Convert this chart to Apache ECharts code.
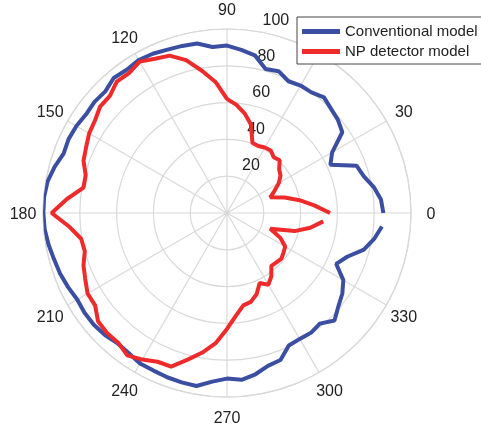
<!DOCTYPE html>
<html>
<head>
<meta charset="utf-8">
<script src="https://cdn.jsdelivr.net/npm/echarts@6/dist/echarts.min.js"></script>
<style>
  html, body { margin: 0; padding: 0; background: #fff; }
  #chart { width: 481px; height: 428px; }
</style>
</head>
<body>
<div id="chart"></div>
<script>
// Beam direction (degrees) for every sample
const angles = [0, 5, 10, 15, 20, 25, 30, 35, 40, 45, 50, 55, 60, 65, 70, 75, 80, 85,
  90, 95, 100, 105, 110, 115, 120, 125, 130, 135, 140, 145, 150, 155, 160, 165, 170, 175,
  180, 185, 190, 195, 200, 205, 210, 215, 220, 225, 230, 235, 240, 245, 250, 255, 260, 265,
  270, 275, 280, 285, 290, 295, 300, 305, 310, 315, 320, 325, 330, 335, 340, 345, 350, 355];

const conventional = [85, 84, 81, 77, 75, 62, 66, 76.5, 78.7, 80, 82, 80, 80, 79, 82, 81, 87, 89,
  91, 90.6, 93.5, 94, 94.5, 95.5, 96, 95, 95.8, 93.5, 94, 93.5, 94.5, 95, 94.5, 97, 99, 99.8,
  99.8, 99.5, 98.5, 97.3, 96.5, 95.3, 94, 94.5, 94.5, 93.8, 92.5, 93, 94.5, 94.5, 95, 95.3, 95.5, 92,
  90, 91, 89, 86, 85, 79.5, 79, 79.5, 78.5, 82.6, 79, 76.5, 73, 65.5, 69.5, 77, 81.2, 84.5];

const npDetector = [56, 47.6, 40, 32.5, 25, 28.5, 32.5, 35.5, 37, 40.5, 39.5, 41.5, 41.1, 40.2, 40.5, 50, 55, 59,
  62, 71.5, 78.5, 86, 91, 92.5, 95, 92.8, 93.2, 90, 90, 87.6, 86.5, 84.5, 83, 79.5, 79.2, 87.3,
  95.3, 86, 80.5, 80, 83, 85, 87.5, 87.5, 91.5, 92.2, 92, 94.5, 92, 89.2, 88.8, 82.5, 77, 71,
  63, 56, 51, 50, 47, 42, 45, 42, 37.5, 38, 38.6, 37.5, 36.5, 32, 25, 38, 46, 52.5];

const seriesNames = ['Conventional model', 'NP detector model'];
const seriesColors = ['#3a4ea2', '#ee2a2a'];

const radiusTicks = { min: 0, max: 100, interval: 20 };
const angleTicks = { min: 0, max: 360, interval: 30 };

const font = "'Liberation Sans', Arial, sans-serif";
const gridColor = '#d9d9d9';
const textColor = '#222';

function pairs(values) {
  return values.map((v, i) => [v, angles[i]]);
}

const chart = echarts.init(document.getElementById('chart'), null, { renderer: 'canvas' });

chart.setOption({
  animation: false,
  backgroundColor: '#fff',
  polar: [
    { center: [227, 213], radius: 184 },
    // second polar shares the frame; it only carries the radial tick labels
    { center: [227, 213], radius: 184 }
  ],
  angleAxis: [
    {
      polarIndex: 0,
      type: 'value',
      min: angleTicks.min,
      max: angleTicks.max,
      interval: angleTicks.interval,
      startAngle: 0,
      clockwise: false,
      axisLine: { show: true, lineStyle: { color: gridColor, width: 1.2 } },
      axisTick: { show: false },
      splitLine: { show: true, lineStyle: { color: gridColor, width: 1.2 } },
      axisLabel: {
        margin: 19,
        // tiny centred box so each label sits centred on its anchor point
        formatter: v => (v >= 360 ? '' : '{a|' + v + '}'),
        rich: {
          a: {
            width: 2, height: 2, lineHeight: 2,
            padding: [4, 0, 0, 0],
            align: 'center', verticalAlign: 'middle',
            fontSize: 16, fontFamily: font, color: textColor
          }
        }
      }
    },
    {
      polarIndex: 1,
      type: 'value',
      min: 0,
      max: 360,
      startAngle: 82,
      clockwise: false,
      axisLine: { show: false },
      axisTick: { show: false },
      splitLine: { show: false },
      axisLabel: { show: false }
    }
  ],
  radiusAxis: [
    {
      polarIndex: 0,
      min: radiusTicks.min,
      max: radiusTicks.max,
      interval: radiusTicks.interval,
      axisLine: { show: false },
      axisTick: { show: false },
      axisLabel: { show: false },
      splitLine: { show: true, lineStyle: { color: gridColor, width: 1.2 } }
    },
    {
      polarIndex: 1,
      min: radiusTicks.min,
      max: radiusTicks.max,
      interval: radiusTicks.interval,
      axisLine: { show: false },
      axisTick: { show: false },
      splitLine: { show: false },
      axisLabel: {
        show: true,
        margin: -10,
        align: 'left',
        verticalAlign: 'bottom',
        lineHeight: 24,
        fontSize: 16,
        fontFamily: font,
        color: textColor,
        formatter: v => (v === 0 ? '' : String(v))
      }
    }
  ],
  legend: {
    orient: 'vertical',
    left: 297,
    top: 17,
    padding: [7, 8, 5, 5],
    itemWidth: 38,
    itemHeight: 5,
    itemGap: 5,
    icon: 'rect',
    borderColor: '#444',
    borderWidth: 1,
    borderRadius: 0,
    backgroundColor: '#fff',
    textStyle: { fontSize: 15, fontFamily: font, color: textColor },
    data: seriesNames
  },
  series: [
    {
      name: seriesNames[0],
      type: 'line',
      coordinateSystem: 'polar',
      polarIndex: 0,
      data: pairs(conventional),
      showSymbol: false,
      color: seriesColors[0],
      lineStyle: { width: 4, color: seriesColors[0] }
    },
    {
      name: seriesNames[1],
      type: 'line',
      coordinateSystem: 'polar',
      polarIndex: 0,
      data: pairs(npDetector),
      showSymbol: false,
      color: seriesColors[1],
      lineStyle: { width: 4, color: seriesColors[1] }
    }
  ]
});
</script>
</body>
</html>
